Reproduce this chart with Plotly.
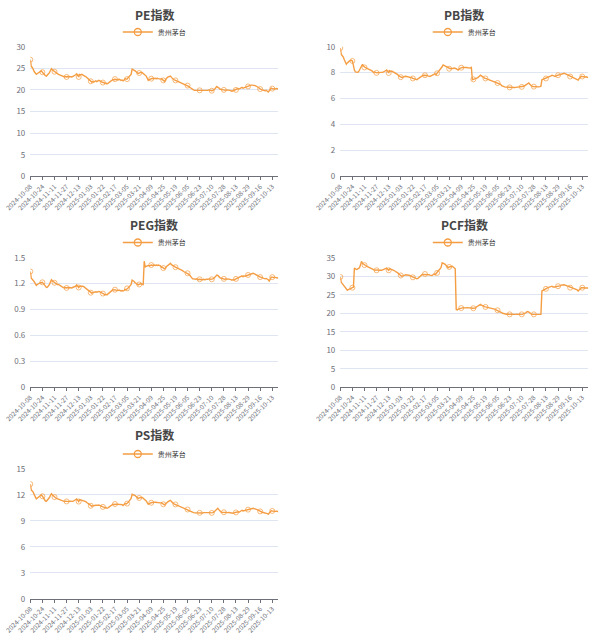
import pandas as pd
import plotly.graph_objects as go

# ---------------- data ----------------
series_name = "贵州茅台"

tick_labels = [
    "2024-10-08", "2024-10-24", "2024-11-11", "2024-11-27", "2024-12-13",
    "2025-01-03", "2025-01-22", "2025-02-17", "2025-03-05", "2025-03-21",
    "2025-04-09", "2025-04-25", "2025-05-19", "2025-06-05", "2025-06-23",
    "2025-07-10", "2025-07-28", "2025-08-13", "2025-08-29", "2025-09-16",
    "2025-10-13",
]

first_day, last_day = "2024-10-08", "2025-10-21"
closed_days = [
    "2025-01-01", "2025-01-28", "2025-01-29", "2025-01-30", "2025-01-31",
    "2025-02-03", "2025-02-04", "2025-04-04", "2025-05-01", "2025-05-02",
    "2025-05-05", "2025-06-02", "2025-10-01", "2025-10-02", "2025-10-03",
    "2025-10-06", "2025-10-07", "2025-10-08",
]
missing_days = ["2024-12-24", "2024-12-25", "2025-01-20", "2025-05-06",
                "2025-07-04", "2025-10-09"]

pe = [
    27.0, 25.4, 25.2, 24.6, 24.2, 23.9, 23.6, 23.8, 24.0, 24.1, 24.3, 24.4,
    24.1, 23.8, 23.5, 23.3, 23.2, 23.4, 23.7, 24.0, 24.5, 24.9, 24.6, 24.4,
    24.2, 24.0, 23.8, 23.7, 23.6, 23.5, 23.4, 23.3, 23.2, 23.1, 23.0, 23.1,
    23.0, 23.1, 23.0, 23.1, 23.0, 23.0, 23.1, 23.2, 23.4, 23.5, 23.7, 23.4,
    23.0, 23.6, 23.5, 23.6, 23.4, 23.3, 23.2, 23.1, 22.9, 22.7, 22.4, 22.2,
    22.0, 21.8, 21.9, 21.8, 22.0, 22.1, 21.9, 22.0, 22.2, 22.1, 21.9, 21.8,
    21.7, 21.7, 21.5, 21.6, 21.4, 21.5, 21.7, 21.9, 22.0, 22.2, 22.4, 22.3,
    22.5, 22.4, 22.4, 22.3, 22.5, 22.4, 22.2, 22.3, 22.1, 22.3, 22.6, 22.5,
    22.5, 22.8, 23.1, 23.4, 23.6, 24.8, 24.7, 24.5, 24.4, 24.2, 24.0, 23.8,
    23.9, 24.0, 24.1, 24.0, 23.8, 23.6, 23.5, 23.2, 22.7, 22.2, 22.4, 22.5,
    22.6, 22.7, 22.6, 22.7, 22.7, 22.6, 22.7, 22.6, 22.5, 22.5, 22.6, 22.4,
    22.2, 22.0, 22.3, 22.7, 22.9, 23.0, 23.1, 23.2, 22.9, 22.6, 22.4, 22.3,
    22.2, 22.1, 22.0, 21.9, 21.8, 21.7, 21.6, 21.5, 21.4, 21.3, 21.2, 21.1,
    21.0, 20.8, 20.6, 20.4, 20.2, 20.0, 20.0, 19.9, 19.9, 19.8, 19.9, 19.8,
    19.9, 19.8, 19.8, 19.8, 19.9, 19.8, 19.9, 19.9, 19.9, 20.0, 19.9, 19.8,
    19.8, 19.9, 20.0, 20.2, 20.5, 20.8, 20.6, 20.5, 20.2, 20.1, 20.0, 20.0,
    20.0, 19.9, 20.0, 19.9, 20.0, 20.0, 19.9, 19.8, 19.7, 19.8, 19.9, 20.0,
    20.0, 20.1, 20.3, 20.2, 20.4, 20.6, 20.6, 20.4, 20.5, 20.5, 20.6, 20.7,
    20.8, 20.9, 21.0, 21.1, 21.1, 21.1, 21.0, 21.0, 20.9, 20.7, 20.5, 20.3,
    20.2, 20.1, 20.0, 19.9, 19.8, 19.8, 19.9, 19.7, 19.5, 19.8, 20.1, 20.4,
    20.3, 20.2, 20.3, 20.2, 20.3, 20.2, 20.2,
]

pb = [
    9.90, 9.40, 9.30, 9.20, 9.00, 8.85, 8.65, 8.75, 8.85, 8.90, 8.92, 8.95,
    8.90, 8.45, 8.20, 8.05, 8.02, 8.03, 8.05, 8.20, 8.45, 8.60, 8.65, 8.50,
    8.40, 8.38, 8.35, 8.32, 8.30, 8.25, 8.20, 8.15, 8.10, 8.00, 8.05, 8.00,
    7.98, 8.00, 7.97, 8.00, 8.02, 8.00, 8.03, 8.05, 8.10, 8.15, 8.20, 8.10,
    7.97, 8.15, 8.10, 8.12, 8.08, 8.05, 8.00, 7.95, 7.90, 7.85, 7.75, 7.70,
    7.65, 7.62, 7.65, 7.65, 7.70, 7.72, 7.70, 7.72, 7.68, 7.65, 7.62, 7.60,
    7.55, 7.52, 7.48, 7.50, 7.45, 7.52, 7.58, 7.65, 7.70, 7.75, 7.78, 7.80,
    7.80, 7.82, 7.78, 7.75, 7.72, 7.70, 7.75, 7.80, 7.85, 7.88, 7.90, 7.85,
    7.95, 8.00, 8.10, 8.20, 8.30, 8.45, 8.60, 8.55, 8.50, 8.45, 8.40, 8.35,
    8.30, 8.30, 8.32, 8.30, 8.32, 8.35, 8.35, 8.30, 8.25, 8.20, 8.30, 8.35,
    8.38, 8.40, 8.40, 8.42, 8.40, 8.40, 8.38, 8.40, 8.38, 8.35, 8.40, 7.45,
    7.48, 7.50, 7.52, 7.55, 7.60, 7.65, 7.72, 7.80, 7.75, 7.68, 7.60, 7.58,
    7.55, 7.52, 7.50, 7.45, 7.42, 7.40, 7.38, 7.35, 7.32, 7.30, 7.25, 7.22,
    7.20, 7.15, 7.12, 7.10, 7.00, 6.95, 6.90, 6.90, 6.88, 6.87, 6.86, 6.85,
    6.86, 6.85, 6.85, 6.84, 6.85, 6.85, 6.86, 6.87, 6.88, 6.90, 6.90, 6.88,
    6.90, 6.92, 6.95, 7.00, 7.05, 7.12, 7.18, 7.20, 7.10, 7.00, 6.95, 6.93,
    6.92, 6.90, 6.91, 6.90, 6.90, 6.90, 6.92, 6.95, 7.45, 7.48, 7.50, 7.52,
    7.55, 7.60, 7.62, 7.65, 7.70, 7.75, 7.80, 7.75, 7.72, 7.70, 7.75, 7.78,
    7.80, 7.80, 7.85, 7.90, 7.95, 7.97, 7.95, 7.92, 7.88, 7.85, 7.80, 7.75,
    7.70, 7.65, 7.60, 7.58, 7.55, 7.48, 7.50, 7.45, 7.42, 7.55, 7.65, 7.72,
    7.70, 7.68, 7.70, 7.66, 7.68, 7.64, 7.62,
]

peg = [
    1.34, 1.26, 1.25, 1.24, 1.22, 1.20, 1.18, 1.19, 1.20, 1.20, 1.21, 1.21,
    1.215, 1.20, 1.18, 1.16, 1.155, 1.16, 1.17, 1.19, 1.22, 1.245, 1.23, 1.22,
    1.21, 1.20, 1.195, 1.19, 1.19, 1.18, 1.175, 1.17, 1.16, 1.155, 1.15, 1.155,
    1.15, 1.155, 1.15, 1.155, 1.15, 1.15, 1.155, 1.16, 1.16, 1.17, 1.185, 1.17,
    1.155, 1.17, 1.17, 1.175, 1.17, 1.165, 1.155, 1.15, 1.14, 1.13, 1.11, 1.10,
    1.095, 1.09, 1.095, 1.10, 1.10, 1.105, 1.10, 1.105, 1.11, 1.105, 1.10, 1.09,
    1.085, 1.08, 1.07, 1.075, 1.07, 1.08, 1.09, 1.10, 1.11, 1.12, 1.13, 1.125,
    1.13, 1.125, 1.12, 1.12, 1.125, 1.12, 1.115, 1.12, 1.115, 1.12, 1.135, 1.13,
    1.145, 1.15, 1.16, 1.175, 1.19, 1.24, 1.235, 1.225, 1.21, 1.20, 1.19, 1.185,
    1.19, 1.195, 1.20, 1.19, 1.19, 1.46, 1.39, 1.40, 1.405, 1.41, 1.405, 1.41,
    1.415, 1.41, 1.415, 1.415, 1.41, 1.415, 1.41, 1.415, 1.41, 1.405, 1.39, 1.39,
    1.38, 1.37, 1.38, 1.40, 1.41, 1.415, 1.425, 1.435, 1.42, 1.41, 1.40, 1.395,
    1.39, 1.385, 1.38, 1.37, 1.365, 1.36, 1.355, 1.35, 1.34, 1.335, 1.33, 1.325,
    1.32, 1.31, 1.30, 1.28, 1.26, 1.255, 1.255, 1.25, 1.25, 1.255, 1.25, 1.245,
    1.25, 1.245, 1.245, 1.245, 1.25, 1.245, 1.25, 1.25, 1.25, 1.255, 1.255, 1.25,
    1.25, 1.255, 1.26, 1.27, 1.285, 1.30, 1.295, 1.28, 1.27, 1.265, 1.26, 1.255,
    1.255, 1.25, 1.255, 1.25, 1.255, 1.255, 1.25, 1.245, 1.24, 1.245, 1.24, 1.25,
    1.255, 1.26, 1.27, 1.27, 1.275, 1.285, 1.29, 1.28, 1.29, 1.285, 1.29, 1.295,
    1.30, 1.305, 1.31, 1.315, 1.32, 1.32, 1.315, 1.31, 1.305, 1.30, 1.29, 1.28,
    1.275, 1.27, 1.265, 1.26, 1.255, 1.255, 1.26, 1.255, 1.245, 1.23, 1.255, 1.275,
    1.275, 1.27, 1.275, 1.27, 1.27, 1.265, 1.27,
]

pcf = [
    29.8, 28.3, 28.0, 27.7, 27.4, 27.0, 26.6, 26.2, 26.4, 26.6, 26.8, 26.8,
    26.9, 27.0, 32.2, 31.9, 31.8, 31.9, 32.1, 32.3, 33.0, 34.0, 33.5, 33.2,
    33.0, 32.9, 32.7, 32.6, 32.4, 32.3, 32.1, 32.0, 31.9, 31.8, 31.6, 31.7,
    31.6, 31.7, 31.6, 31.7, 31.6, 31.6, 31.7, 31.8, 32.0, 32.1, 32.2, 31.9,
    31.6, 32.0, 31.9, 32.0, 31.8, 31.6, 31.4, 31.3, 31.1, 30.9, 30.6, 30.4,
    30.2, 30.0, 30.1, 30.1, 30.3, 30.4, 30.4, 30.3, 30.4, 30.2, 30.0, 29.9,
    29.7, 29.6, 29.4, 29.5, 29.3, 29.4, 29.7, 30.0, 30.2, 30.4, 30.5, 30.5,
    30.6, 30.5, 30.5, 30.5, 30.4, 30.3, 30.2, 30.2, 30.4, 30.6, 30.4, 30.7,
    30.9, 31.3, 31.7, 32.0, 32.4, 33.6, 33.5, 33.4, 33.2, 32.9, 32.6, 32.3,
    32.5, 32.6, 32.7, 32.7, 32.5, 32.2, 32.0, 21.0, 20.9, 21.1, 21.2, 21.35,
    21.4, 21.4, 21.5, 21.45, 21.5, 21.5, 21.45, 21.5, 21.45, 21.5, 21.4, 21.35,
    21.35, 21.2, 21.4, 21.7, 21.9, 22.1, 22.3, 22.4, 22.2, 22.0, 21.9, 21.8,
    21.7, 21.65, 21.6, 21.5, 21.4, 21.35, 21.3, 21.2, 21.15, 21.1, 21.0, 20.9,
    20.8, 20.7, 20.6, 20.45, 20.2, 20.0, 19.9, 19.8, 19.8, 19.75, 19.8, 19.7,
    19.7, 19.75, 19.7, 19.7, 19.75, 19.7, 19.7, 19.75, 19.7, 19.8, 19.7, 19.7,
    19.7, 19.75, 19.8, 19.9, 20.1, 20.35, 20.45, 20.3, 20.0, 19.8, 19.7, 19.7,
    19.7, 19.65, 19.7, 19.7, 19.65, 19.7, 19.7, 19.7, 26.0, 26.2, 26.3, 26.4,
    26.6, 26.8, 26.9, 27.0, 27.1, 27.2, 27.3, 27.1, 27.0, 27.1, 27.2, 27.2,
    27.3, 27.3, 27.4, 27.6, 27.7, 27.8, 27.7, 27.6, 27.5, 27.3, 27.1, 27.0,
    26.9, 26.8, 26.8, 26.7, 26.6, 26.6, 26.5, 26.3, 26.0, 26.3, 26.6, 26.9,
    26.9, 26.8, 26.9, 26.8, 26.8, 26.7, 26.8,
]

ps = [
    13.25, 12.55, 12.45, 12.30, 12.00, 11.75, 11.55, 11.65, 11.75, 11.85, 11.95, 12.00,
    11.85, 11.60, 11.45, 11.30, 11.28, 11.40, 11.54, 11.70, 11.95, 12.15, 12.00, 11.85,
    11.75, 11.68, 11.60, 11.55, 11.52, 11.48, 11.45, 11.40, 11.35, 11.30, 11.23, 11.28,
    11.25, 11.28, 11.23, 11.27, 11.24, 11.23, 11.26, 11.30, 11.38, 11.45, 11.54, 11.40,
    11.23, 11.46, 11.42, 11.45, 11.40, 11.35, 11.30, 11.22, 11.12, 11.02, 10.92, 10.85,
    10.75, 10.70, 10.73, 10.72, 10.78, 10.80, 10.77, 10.80, 10.84, 10.77, 10.70, 10.65,
    10.62, 10.60, 10.52, 10.55, 10.46, 10.50, 10.60, 10.70, 10.78, 10.85, 10.92, 10.90,
    10.95, 10.92, 10.93, 10.92, 10.95, 10.90, 10.85, 10.88, 10.77, 10.85, 11.00, 10.95,
    11.00, 11.12, 11.28, 11.46, 11.60, 12.08, 12.05, 11.98, 11.92, 11.82, 11.70, 11.60,
    11.65, 11.70, 11.72, 11.70, 11.62, 11.55, 11.46, 11.30, 11.10, 10.92, 11.00, 11.08,
    11.10, 11.12, 11.10, 11.15, 11.15, 11.12, 11.15, 11.12, 11.10, 11.08, 11.10, 11.00,
    10.92, 10.85, 10.95, 11.08, 11.18, 11.25, 11.32, 11.38, 11.25, 11.10, 11.00, 10.95,
    10.90, 10.86, 10.82, 10.77, 10.72, 10.68, 10.64, 10.60, 10.54, 10.50, 10.45, 10.40,
    10.32, 10.23, 10.15, 10.08, 10.00, 9.97, 9.95, 9.93, 9.92, 9.92, 9.95, 9.92,
    9.93, 9.92, 9.92, 9.92, 9.95, 9.92, 9.95, 9.95, 9.97, 10.00, 9.96, 9.93,
    9.92, 9.95, 10.00, 10.10, 10.25, 10.40, 10.46, 10.30, 10.15, 10.05, 10.00, 9.98,
    10.00, 9.96, 9.98, 9.95, 9.96, 9.97, 9.93, 9.90, 9.85, 9.88, 9.92, 9.96,
    9.98, 10.00, 10.05, 10.00, 10.10, 10.20, 10.23, 10.15, 10.18, 10.15, 10.20, 10.25,
    10.30, 10.35, 10.38, 10.42, 10.45, 10.46, 10.42, 10.40, 10.35, 10.30, 10.23, 10.15,
    10.10, 10.05, 10.00, 9.97, 9.94, 9.92, 9.95, 9.85, 9.77, 9.90, 10.05, 10.18,
    10.15, 10.12, 10.14, 10.10, 10.12, 10.08, 10.08,
]

# ---------------- category axis (trading dates) ----------------
skip = set(closed_days) | set(missing_days)
dates = [d.strftime("%Y-%m-%d") for d in pd.bdate_range(first_day, last_day)
         if d.strftime("%Y-%m-%d") not in skip]
n = min(len(dates), len(pe))
dates = dates[:n]

# ---------------- figure ----------------
W, H = 609, 638
LINE = "#F49D43"
TITLE_C = "#464646"
AXIS_C = "#6E7079"
GRID_C = "#E0E6F1"
FONT = "Noto Sans CJK SC, Noto Sans, sans-serif"

col_px = [(30.3, 278.3), (340.3, 588.3)]
row_px = [(46.7, 176.3), (257.7, 387.3), (469.0, 598.7)]
title_py = [14, 224, 435]
legend_py = [32, 242.5, 454]

panels = [
    ("PE指数", pe, 30, 5, 0, 0),
    ("PB指数", pb, 10, 2, 0, 1),
    ("PEG指数", peg, 1.5, 0.3, 1, 0),
    ("PCF指数", pcf, 35, 5, 1, 1),
    ("PS指数", ps, 15, 3, 2, 0),
]

fig = go.Figure()
annotations = []
layout_axes = {}
tick_set = set(tick_labels)
sizes = [5 if dates[i] in tick_set else 0 for i in range(n)]

for k, (title, vals, ymax, dtick, r, c) in enumerate(panels, start=1):
    xa = "x" if k == 1 else f"x{k}"
    ya = "y" if k == 1 else f"y{k}"
    lg = "legend" if k == 1 else f"legend{k}"
    x0, x1 = col_px[c]
    y0, y1 = row_px[r]
    fig.add_trace(go.Scatter(
        x=dates, y=vals[:n], mode="lines+markers", name=series_name,
        xaxis=xa, yaxis=ya, showlegend=False,
        line=dict(color=LINE, width=1.4),
        marker=dict(symbol="circle-open", size=sizes, color=LINE,
                    line=dict(width=1, color=LINE)),
    ))
    # legend entry (no data point of its own)
    fig.add_trace(go.Scatter(
        x=[None], y=[None], mode="lines+markers", name=series_name,
        xaxis=xa, yaxis=ya, legend=lg, showlegend=True, hoverinfo="skip",
        line=dict(color=LINE, width=1.4),
        marker=dict(symbol="circle-open", size=7, color=LINE,
                    line=dict(width=1.3, color=LINE)),
    ))
    layout_axes["xaxis" if k == 1 else f"xaxis{k}"] = dict(
        domain=[x0 / W, x1 / W], anchor=ya, type="category",
        categoryorder="array", categoryarray=dates, automargin=False,
        range=[0, n - 1], tickmode="array", tickvals=tick_labels,
        ticktext=tick_labels, tickangle=-45,
        tickfont=dict(size=6.5, color=AXIS_C, family=FONT),
        showline=True, linecolor=AXIS_C, linewidth=1,
        ticks="outside", ticklen=3, tickcolor=AXIS_C,
        showgrid=False, zeroline=False,
    )
    layout_axes["yaxis" if k == 1 else f"yaxis{k}"] = dict(
        domain=[1 - y1 / H, 1 - y0 / H], anchor=xa, automargin=False,
        range=[0, ymax], dtick=dtick, tick0=0,
        tickfont=dict(size=8, color=AXIS_C, family=FONT),
        showgrid=True, gridcolor=GRID_C, gridwidth=1,
        zeroline=False, showline=False, ticks="", ticklabelstandoff=4,
    )
    cx = (x0 + x1) / 2 / W
    annotations.append(dict(
        text=f"<b>{title}</b>", x=cx, y=1 - title_py[r] / H,
        xref="paper", yref="paper", xanchor="center", yanchor="middle",
        showarrow=False, font=dict(size=12, color=TITLE_C, family=FONT),
    ))
    layout_axes[lg] = dict(
        x=cx, y=1 - legend_py[r] / H, xanchor="center", yanchor="middle",
        orientation="h", bgcolor="rgba(0,0,0,0)", itemwidth=30,
        font=dict(size=7, color="#333333", family=FONT),
    )

fig.update_layout(
    width=W, height=H, autosize=False,
    margin=dict(l=0, r=0, t=0, b=0, autoexpand=False),
    paper_bgcolor="white", plot_bgcolor="white",
    font=dict(family=FONT),
    annotations=annotations,
    **layout_axes,
)

fig.write_html("out.html", config={"displayModeBar": False},
               post_script="document.body.style.margin='0';document.body.style.overflow='hidden';")
